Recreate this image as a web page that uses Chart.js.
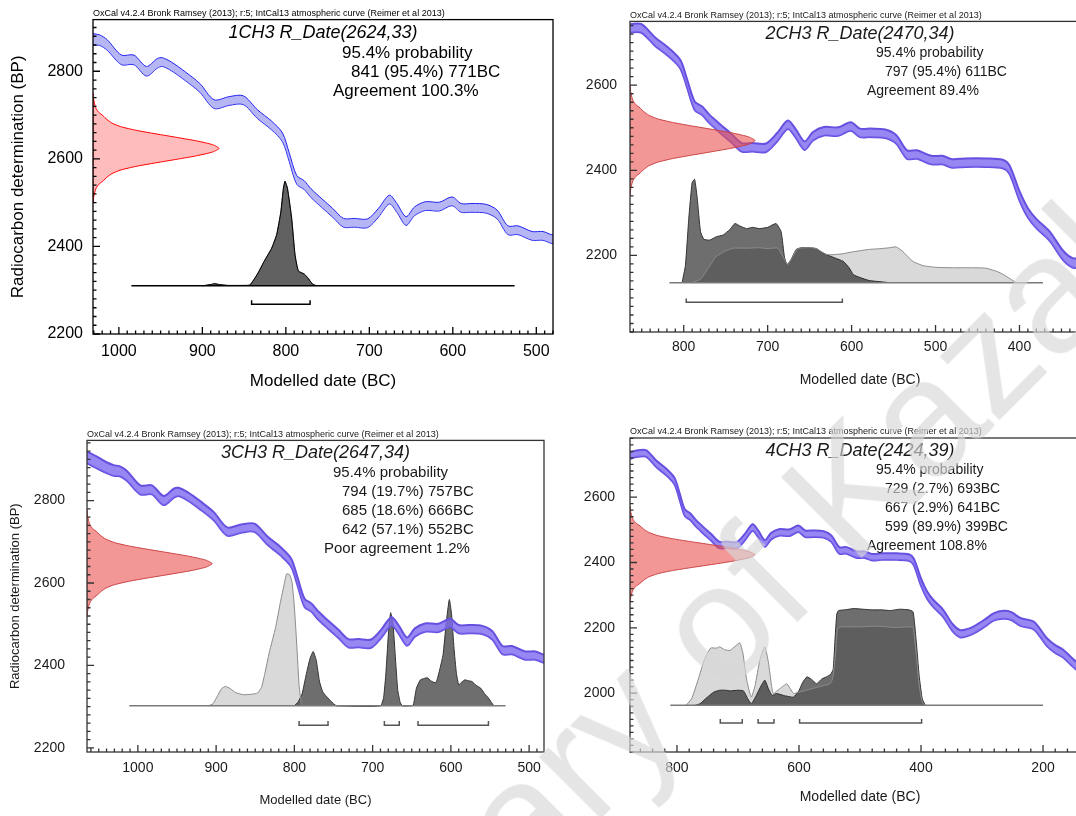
<!DOCTYPE html>
<html>
<head>
<meta charset="utf-8">
<title>OxCal R_Date plots</title>
<script src="https://cdn.jsdelivr.net/npm/chart.js@4.4.1/dist/chart.umd.min.js"></script>
<style>
  html, body { margin: 0; padding: 0; background: #fff; overflow: hidden; }
  body { width: 1076px; height: 816px; position: relative; }
  .panel { position: absolute; }
  .soft { filter: blur(0.55px); }
  #mark {
    position: absolute;
    left: 235px;
    top: 988px;
    font: 165px "Liberation Sans", Arial, sans-serif;
    line-height: 1;
    white-space: nowrap;
    color: rgba(215, 215, 215, 0.65);
    transform-origin: 0 0;
    transform: rotate(-45deg);
    pointer-events: none;
  }
</style>
</head>
<body>
<div class="panel" style="left:0;top:0"><canvas id="p1" width="560" height="400"></canvas></div>
<div class="panel soft" style="left:560px;top:0"><canvas id="p2" width="540" height="400"></canvas></div>
<div class="panel soft" style="left:0;top:410px"><canvas id="p3" width="560" height="406"></canvas></div>
<div class="panel soft" style="left:560px;top:410px"><canvas id="p4" width="540" height="406"></canvas></div>
<div id="mark">Library of Kazakhstan</div>

<script>
Chart.defaults.font.family = '"Liberation Sans", Arial, Helvetica, sans-serif';

// IntCal13 band: year BC, BP and 1 sigma
const curveYears = [1065, 1050, 1040, 1031, 1023, 1014, 997, 982, 967, 954,
  948, 937, 920, 903, 886, 868, 851, 834, 817, 804,
  796, 787, 778, 770, 757, 744, 731, 718, 702, 689,
  676, 667, 656, 646, 633, 616, 601, 590, 577, 560,
  547, 534, 522, 505, 492, 480, 465, 440, 420, 412,
  400, 390, 380, 364, 348, 336, 325, 314, 295, 281,
  265, 252, 237, 216, 205, 194, 180, 167, 146, 120];
const curveBP = [2905, 2890, 2880, 2873, 2871, 2860, 2826, 2826, 2800, 2818,
  2821, 2811, 2788, 2762, 2725, 2732, 2734, 2702, 2676, 2649,
  2604, 2552, 2540, 2522, 2499, 2477, 2454, 2454, 2453, 2477,
  2507, 2488, 2458, 2480, 2492, 2491, 2503, 2488, 2488, 2486,
  2473, 2437, 2437, 2424, 2424, 2416, 2418, 2418, 2415, 2402,
  2340, 2300, 2275, 2245, 2200, 2182, 2185, 2193, 2215, 2233,
  2240, 2236, 2218, 2208, 2185, 2157, 2135, 2121, 2085, 2060];
const curveErr = [14, 14, 13, 13, 12, 12, 11, 11, 11, 11,
  10, 10, 10, 10, 10, 10, 10, 10, 10, 10,
  10, 10, 10, 10, 10, 10, 10, 10, 10, 10,
  10, 10, 10, 10, 10, 10, 10, 10, 10, 10,
  10, 10, 10, 10, 10, 10, 10, 10, 10, 10,
  11, 11, 11, 11, 11, 11, 11, 11, 11, 11,
  12, 12, 12, 12, 12, 12, 12, 12, 12, 12];

// shape of the measured date hanging off the y axis (sigma units, relative width)
const redZ = [-3.8, -3.4, -3, -2.75, -2.5, -2.25, -2, -1.75, -1.5, -1.25, -1, -0.75, -0.5, -0.25, 0,
  0.25, 0.5, 0.75, 1, 1.25, 1.5, 1.75, 2, 2.25, 2.5, 2.75, 3, 3.4, 3.8];
const redDens = [0, 0.005, 0.015, 0.025, 0.045, 0.08, 0.11, 0.15, 0.22, 0.34, 0.5, 0.67, 0.83, 0.95, 1,
  0.95, 0.83, 0.67, 0.5, 0.34, 0.22, 0.15, 0.11, 0.08, 0.045, 0.025, 0.015, 0.005, 0];

const header = 'OxCal v4.2.4 Bronk Ramsey (2013); r:5; IntCal13 atmospheric curve (Reimer et al 2013)';
const sampleNames = ['1CH3', '2CH3', '3CH3', '4CH3'];
const rDates = [[2624, 33], [2470, 34], [2647, 34], [2424, 39]];
const redReach = [880, 715, 905, 672];
const rangeLines = [
  ['841 (95.4%) 771BC'],
  ['797 (95.4%) 611BC'],
  ['794 (19.7%) 757BC', '685 (18.6%) 666BC', '642 (57.1%) 552BC'],
  ['729 (2.7%) 693BC', '667 (2.9%) 641BC', '599 (89.9%) 399BC']
];
const rangeBounds = [
  [[841, 771]],
  [[797, 611]],
  [[794, 757], [685, 666], [642, 552]],
  [[729, 693], [667, 641], [599, 399]]
];
const agreements = ['Agreement 100.3%', 'Agreement 89.4%', 'Poor agreement 1.2%', 'Agreement 108.8%'];

// axis ranges and tick labels
const xRanges = [[480, 1031], [316, 864], [481, 1065], [123, 877]];
const yRanges = [[2200, 2918], [2020, 2750], [2190, 2946], [1820, 2781]];
const xTicks = [
  [1000, 900, 800, 700, 600, 500],
  [800, 700, 600, 500, 400],
  [1000, 900, 800, 700, 600, 500],
  [800, 600, 400, 200]
];
const yTicks = [
  [2200, 2400, 2600, 2800],
  [2200, 2400, 2600],
  [2200, 2400, 2600, 2800],
  [2000, 2200, 2400, 2600]
];
const xMajor = [100, 100, 100, 200];
const yMajor = [200, 200, 200, 200];

// baseline of the probability plots, bracket level
const baseBP = [2310, 2136, 2302, 1963];
const baseSpan = [[985, 526], [817, 372], [1011, 530], [811, 200]];
const bracketBP = [2268, 2090, 2255, 1909];

// unmodelled (light) and modelled (dark) distributions, heights in BP above the baseline
const like1Years = [900, 890, 885, 880, 870, 850, 843, 834, 826, 817, 811, 806, 803, 801, 798, 793, 789, 785, 778, 774, 768, 763];
const like1H = [0, 3, 5, 3, 1, 1, 2, 27, 56, 86, 117, 169, 222, 239, 222, 154, 71, 34, 27, 19, 4, 0];
const post1Years = [900, 890, 885, 880, 870, 850, 843, 834, 826, 817, 811, 806, 803, 801, 798, 793, 789, 785, 778, 774, 768, 763];
const post1H = [0, 3, 5, 3, 1, 1, 2, 27, 56, 86, 117, 169, 222, 239, 222, 154, 71, 34, 27, 19, 4, 0];

const like2Years = [790, 780, 772, 762, 750, 741, 725, 710, 700, 688, 680, 676, 670, 664, 650, 642,
  630, 620, 610, 600, 590, 580, 565, 555, 547, 540, 527, 515, 500, 480, 460, 440, 425, 415, 404];
const like2H = [0, 8, 30, 60, 75, 81, 81, 82, 80, 81, 55, 42, 62, 80, 82, 80,
  66, 66, 68, 72, 75, 78, 80, 82, 84, 75, 50, 40, 36, 35, 35, 34, 25, 14, 0];
const post2Years = [802, 798, 794, 790, 787, 784, 780, 776, 769, 761, 753, 745, 739, 733, 725, 718, 710, 700, 690,
  684, 680, 677, 672, 666, 660, 650, 642, 636, 630, 620, 610, 603, 598, 590, 579, 565, 555];
const post2H = [0, 40, 150, 235, 243, 200, 120, 102, 100, 108, 112, 125, 139, 133, 127, 130, 127, 130, 139,
  120, 60, 42, 55, 78, 82, 82, 80, 72, 66, 58, 50, 35, 19, 12, 5, 2, 0];

const like3Years = [910, 904, 898, 893, 888, 882, 875, 865, 855, 847, 842, 838, 832, 824, 818, 813, 810, 806, 803, 800, 797, 794, 791];
const like3H = [0, 5, 25, 42, 47, 42, 32, 27, 28, 31, 45, 76, 130, 190, 250, 295, 320, 318, 300, 240, 150, 50, 0];
const post3Years = [800, 795, 790, 785, 780, 776, 772, 768, 764, 760, 755, 750, 746,
  690, 686, 683, 680, 677, 674, 671, 668, 665, 662,
  652, 648, 644, 639, 635, 630, 625, 619, 614, 610, 606, 602, 599, 596, 593, 590, 586, 582, 578, 573, 568, 562, 557, 552, 548, 545];
const post3H = [0, 10, 30, 75, 115, 132, 110, 60, 35, 25, 15, 5, 0,
  0, 20, 80, 170, 226, 200, 120, 40, 10, 0,
  0, 2, 43, 63, 66, 68, 60, 56, 90, 124, 200, 258, 220, 140, 80, 51, 58, 63, 61, 59, 50, 43, 30, 19, 8, 0];

const like4Years = [785, 776, 765, 755, 745, 735, 730, 722, 713, 705, 697, 692, 686, 681, 678, 672, 664, 656, 650, 645,
  642, 632, 625, 620, 614, 609, 600, 590, 580, 570, 560, 550, 545, 540, 537, 530, 500, 470, 440, 420, 413, 408, 403, 398, 394];
const like4H = [0, 20, 80, 140, 175, 175, 179, 170, 168, 180, 191, 160, 80, 40, 25, 60, 140, 179, 130, 60,
  36, 50, 60, 66, 50, 36, 40, 45, 50, 55, 60, 65, 80, 160, 235, 240, 240, 242, 238, 240, 238, 160, 60, 10, 0];
const post4Years = [770, 762, 750, 740, 730, 720, 713, 700, 691, 684, 678, 670, 662, 656, 650, 644, 637, 625, 609, 600,
  594, 587, 580, 571, 563, 555, 548, 544, 541, 538, 535, 525, 510, 495, 480, 465, 450, 435, 420, 413, 408, 403, 398, 393];
const post4H = [0, 5, 25, 40, 46, 46, 44, 46, 44, 20, 5, 30, 60, 77, 50, 30, 36, 30, 25, 45,
  70, 87, 80, 66, 80, 87, 95, 110, 200, 280, 290, 292, 296, 294, 292, 292, 290, 294, 292, 286, 200, 90, 20, 0];

const likeYears = [like1Years, like2Years, like3Years, like4Years];
const likeH = [like1H, like2H, like3H, like4H];
const postYears = [post1Years, post2Years, post3Years, post4Years];
const postH = [post1H, post2H, post3H, post4H];

// page layout of the four plots
const layouts = [
  { id: 'p1', yAxisW: 93, xAxisH: 66, padTop: 16, padRight: 7, xPad: 8, yPad: 10, xTitlePad: 8, yTitlePad: 8,
    xMinor: 10, yMinor: 20, bracketTick: 9, textX: 249, firstLine: 34 },
  { id: 'p2', yAxisW: 70, xAxisH: 68, padTop: 16, padRight: 10, xPad: 7, yPad: 13, xTitlePad: 11,
    xMinor: 10, yMinor: 20, bracketTick: 9, textX: 246, firstLine: 32 },
  { id: 'p3', yAxisW: 87, xAxisH: 64, padTop: 30, padRight: 16, xPad: 8, yPad: 22, xTitlePad: 8, yTitlePad: 8,
    xMinor: 10, yMinor: 20, bracketTick: 10, textX: 246, firstLine: 32 },
  { id: 'p4', yAxisW: 70, xAxisH: 64, padTop: 28, padRight: 10, xPad: 8, yPad: 15, xTitlePad: 10,
    xMinor: 20, yMinor: 20, bracketTick: 12, textX: 246, firstLine: 32 }
];

const crisp = {
  bandFill: 'rgba(110, 110, 235, 0.5)', bandLine: '#2222f2', bandLW: 1,
  redFill: 'rgba(255, 80, 80, 0.38)', redLine: '#ff0000',
  postFill: 'rgba(85, 85, 85, 0.85)', postLine: '#000000',
  likeFill: 'rgba(0, 0, 0, 0.12)', likeLine: 'rgba(0, 0, 0, 0.45)',
  baseLine: '#000000', bracket: '#000000', text: '#000000', frame: '#000000',
  tickFont: 16, axisFont: 17, lineFont: 17, titleFont: 18
};
const scanned = {
  bandFill: 'rgba(125, 105, 240, 0.8)', bandLine: '#6650e0', bandLW: 2,
  redFill: 'rgba(235, 80, 80, 0.6)', redLine: '#cc4444',
  postFill: 'rgba(85, 85, 85, 0.85)', postLine: '#333333',
  likeFill: 'rgba(0, 0, 0, 0.15)', likeLine: '#8a8a8a',
  baseLine: '#7a7a7a', bracket: '#555555', text: '#1a1a1a', frame: '#333333',
  tickFont: 14, axisFont: 14, lineFont: 14, titleFont: 18
};
const styles = [crisp, scanned, Object.assign({}, scanned, { axisFont: 13, lineFont: 15 }), scanned];

// frame, inward ticks and the OxCal text block
const oxcalText = {
  id: 'oxcalText',
  afterDatasetsDraw(chart, args, o) {
    const { ctx, chartArea: a, scales: { x, y } } = chart;
    ctx.save();
    ctx.strokeStyle = o.frame;
    ctx.lineWidth = 1.3;
    ctx.strokeRect(a.left, a.top, a.right - a.left, a.bottom - a.top);

    ctx.beginPath();
    for (let v = Math.ceil(x.min / o.xMinor) * o.xMinor; v <= x.max; v += o.xMinor) {
      const px = x.getPixelForValue(v);
      const len = v % o.xMajor === 0 ? 7 : 3.5;
      ctx.moveTo(px, a.bottom);
      ctx.lineTo(px, a.bottom - len);
    }
    for (let v = Math.ceil(y.min / o.yMinor) * o.yMinor; v <= y.max; v += o.yMinor) {
      const py = y.getPixelForValue(v);
      const len = v % o.yMajor === 0 ? 7 : 3.5;
      ctx.moveTo(a.left, py);
      ctx.lineTo(a.left + len, py);
    }
    ctx.stroke();

    const fam = Chart.defaults.font.family;
    ctx.fillStyle = o.color;
    ctx.textBaseline = 'middle';
    ctx.textAlign = 'left';
    ctx.font = '9px ' + fam;
    ctx.fillText(header, a.left, a.top - 6, 354);

    ctx.textAlign = 'center';
    ctx.font = 'italic ' + o.titleFont + 'px ' + fam;
    ctx.fillText(o.title, (a.left + a.right) / 2, a.top + 13);

    ctx.textAlign = 'left';
    ctx.font = o.lineFont + 'px ' + fam;
    let ty = a.top + o.firstLine;
    ctx.fillText('95.4% probability', a.left + o.textX, ty);
    o.ranges.forEach(r => {
      ty += 19;
      ctx.fillText(r, a.left + o.textX + 9, ty);
    });
    ty += 19;
    ctx.fillText(o.agreement, a.left + o.textX - 9, ty);
    ctx.restore();
  }
};

function buildDatasets(i, s, lay) {
  const hi = xRanges[i][1];
  const sets = [];

  // calibration curve, upper edge filled down to the lower edge
  sets.push({
    data: curveYears.map((yr, k) => ({ x: yr, y: curveBP[k] + curveErr[k] })),
    borderColor: s.bandLine, borderWidth: s.bandLW, backgroundColor: s.bandFill,
    fill: '+1', tension: 0.3, order: 2
  });
  sets.push({
    data: curveYears.map((yr, k) => ({ x: yr, y: curveBP[k] - curveErr[k] })),
    borderColor: s.bandLine, borderWidth: s.bandLW, fill: false, tension: 0.3, order: 3
  });

  // radiocarbon measurement on the y axis
  const mu = rDates[i][0];
  const sd = rDates[i][1];
  const red = redZ.map((z, k) => ({ x: hi - redDens[k] * (hi - redReach[i]), y: mu + z * sd }));
  red.push(red[0]);
  sets.push({
    data: red, borderColor: s.redLine, borderWidth: 1, backgroundColor: s.redFill,
    fill: 'shape', tension: 0.2, order: 1
  });

  // 95.4% range brackets
  rangeBounds[i].forEach(([a, b]) => {
    const by = bracketBP[i];
    sets.push({
      data: [{ x: a, y: by + lay.bracketTick }, { x: a, y: by }, { x: b, y: by }, { x: b, y: by + lay.bracketTick }],
      borderColor: s.bracket, borderWidth: 1.5, fill: false, order: 4
    });
  });

  sets.push({
    data: [{ x: baseSpan[i][0], y: baseBP[i] }, { x: baseSpan[i][1], y: baseBP[i] }],
    borderColor: s.baseLine, borderWidth: 1.5, fill: false, order: 5
  });

  sets.push({
    data: likeYears[i].map((yr, k) => ({ x: yr, y: baseBP[i] + likeH[i][k] })),
    borderColor: s.likeLine, borderWidth: 1, backgroundColor: s.likeFill,
    fill: { value: baseBP[i] }, tension: 0.15, order: 6
  });
  sets.push({
    data: postYears[i].map((yr, k) => ({ x: yr, y: baseBP[i] + postH[i][k] })),
    borderColor: s.postLine, borderWidth: 1, backgroundColor: s.postFill,
    fill: { value: baseBP[i] }, tension: 0.15, order: 7
  });
  return sets;
}

layouts.forEach((lay, i) => {
  const s = styles[i];
  const ctx = document.getElementById(lay.id).getContext('2d');
  const yTitle = lay.yTitlePad !== undefined;
  new Chart(ctx, {
    type: 'line',
    data: { datasets: buildDatasets(i, s, lay) },
    plugins: [oxcalText],
    options: {
      responsive: false,
      animation: false,
      devicePixelRatio: 1,
      layout: { padding: { top: lay.padTop, right: lay.padRight, left: 0, bottom: 0 } },
      elements: { point: { radius: 0 }, line: { tension: 0 } },
      plugins: {
        legend: { display: false },
        tooltip: { enabled: false },
        oxcalText: {
          frame: s.frame, color: s.text,
          xMinor: lay.xMinor, xMajor: xMajor[i], yMinor: lay.yMinor, yMajor: yMajor[i],
          title: sampleNames[i] + ' R_Date(' + rDates[i][0] + ',' + rDates[i][1] + ')',
          ranges: rangeLines[i], agreement: agreements[i],
          titleFont: s.titleFont, lineFont: s.lineFont,
          textX: lay.textX, firstLine: lay.firstLine
        }
      },
      scales: {
        x: {
          type: 'linear',
          reverse: true,
          min: xRanges[i][0],
          max: xRanges[i][1],
          afterBuildTicks: sc => { sc.ticks = xTicks[i].map(v => ({ value: v })); },
          afterFit: sc => { sc.height = lay.xAxisH; },
          grid: { display: false, drawTicks: false },
          border: { display: false },
          ticks: {
            autoSkip: false, maxRotation: 0,
            padding: lay.xPad, color: s.text, font: { size: s.tickFont },
            callback: v => String(v)
          },
          title: {
            display: true, text: 'Modelled date (BC)', color: s.text,
            font: { size: s.axisFont }, padding: { top: 0, bottom: lay.xTitlePad }
          }
        },
        y: {
          type: 'linear',
          min: yRanges[i][0],
          max: yRanges[i][1],
          afterBuildTicks: sc => { sc.ticks = yTicks[i].map(v => ({ value: v })); },
          afterFit: sc => { sc.width = lay.yAxisW; },
          grid: { display: false, drawTicks: false },
          border: { display: false },
          ticks: {
            autoSkip: false,
            padding: lay.yPad, color: s.text, font: { size: s.tickFont },
            callback: v => String(v)
          },
          title: {
            display: yTitle, text: 'Radiocarbon determination (BP)', color: s.text,
            font: { size: s.axisFont }, padding: { top: lay.yTitlePad || 0, bottom: 0 }
          }
        }
      }
    }
  });
});
</script>
</body>
</html>
